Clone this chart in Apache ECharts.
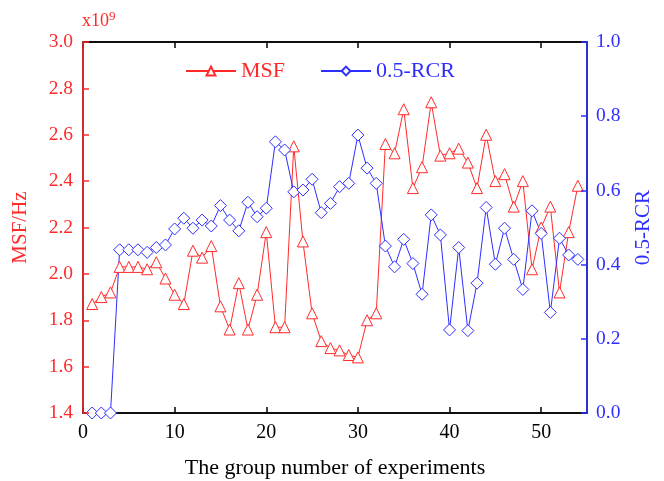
<!DOCTYPE html>
<html>
<head>
<meta charset="utf-8">
<script src="https://cdn.jsdelivr.net/npm/echarts@6/dist/echarts.min.js"></script>
<style>html,body{margin:0;padding:0;background:#fff;}#c{width:664px;height:481px;}</style>
</head>
<body>
<div id="c"></div>
<script>
const groups = [];
for (let i = 1; i <= 54; i++) groups.push(i);
const msf = [1.87,1.90,1.92,2.03,2.03,2.03,2.02,2.05,1.98,1.91,1.87,2.10,2.07,2.12,1.86,1.76,1.96,1.76,1.91,2.18,
             1.77,1.77,2.55,2.14,1.83,1.71,1.68,1.67,1.65,1.64,1.80,1.83,2.56,2.52,2.71,2.37,2.46,2.74,2.51,2.52,
             2.54,2.48,2.37,2.60,2.40,2.43,2.29,2.40,2.02,2.20,2.29,1.92,2.18,2.38];
const rcr = [0.0,0.0,0.0,0.44,0.44,0.44,0.433,0.446,0.453,0.496,0.525,0.498,0.52,0.504,0.559,0.52,0.491,0.568,0.529,0.552,
             0.731,0.709,0.596,0.601,0.63,0.54,0.565,0.61,0.619,0.749,0.66,0.619,0.45,0.394,0.468,0.403,0.32,0.534,0.48,0.224,
             0.446,0.222,0.35,0.554,0.401,0.498,0.414,0.333,0.545,0.484,0.271,0.471,0.426,0.414];
const xTicks = [0,10,20,30,40,50];
const seriesNames = ['MSF','0.5-RCR'];

const RED = '#ff2a2a', BLUE = '#2e2eff';
const FONT = 'Liberation Serif';
const chart = echarts.init(document.getElementById('c'), null, {renderer:'canvas'});
chart.setOption({
  animation:false,
  backgroundColor:'#fff',
  grid:{left:83,right:77,top:42,bottom:68,containLabel:false,outerBoundsMode:'none',
        show:true,borderColor:'#000',borderWidth:1.5,backgroundColor:'transparent'},
  legend:{
    top:55,left:180,itemGap:35,itemWidth:50,itemHeight:11,
    textStyle:{fontFamily:FONT,fontSize:22},
    data:[{name:seriesNames[0],textStyle:{color:RED}},{name:seriesNames[1],textStyle:{color:BLUE}}]
  },
  graphic:[{
    type:'text',left:82,top:10,
    style:{text:'x10{s|9}',fill:RED,font:'18px "Liberation Serif"',
      rich:{s:{fontSize:13,fill:RED,fontFamily:FONT,verticalAlign:'top',padding:[0,0,10,0]}}}
  }],
  xAxis:[{
    type:'value',min:0,max:55,interval:10,position:'bottom',
    name:'The group number of experiments',nameLocation:'middle',nameGap:44,
    nameTextStyle:{fontFamily:FONT,fontSize:22,color:'#000'},
    axisLine:{show:true,lineStyle:{color:'#000',width:1.5}},
    axisTick:{inside:true,length:6,lineStyle:{color:'#000',width:1.5},customValues:xTicks},
    axisLabel:{fontFamily:FONT,fontSize:20,color:'#000',margin:10,customValues:xTicks},
    splitLine:{show:false}
  },{
    type:'value',min:0,max:55,interval:10,position:'top',
    axisLine:{show:true,onZero:false,lineStyle:{color:'#000',width:1.5}},
    axisTick:{inside:true,length:6,lineStyle:{color:'#000',width:1.5},customValues:xTicks},
    axisLabel:{show:false},splitLine:{show:false}
  }],
  yAxis:[{
    type:'value',min:1.4,max:3.0,interval:0.2,position:'left',
    name:'MSF/Hz',nameLocation:'middle',nameGap:52,
    nameTextStyle:{fontFamily:FONT,fontSize:21,color:RED},
    axisLine:{show:true,onZero:false,lineStyle:{color:RED,width:1.5}},
    axisTick:{show:true,inside:true,length:6,lineStyle:{color:RED,width:1.5}},
    axisLabel:{fontFamily:FONT,fontSize:19.5,color:RED,margin:10,formatter:v=>v.toFixed(1)},
    splitLine:{show:false},z:10
  },{
    type:'value',min:0,max:1.0,interval:0.2,position:'right',
    name:'0.5-RCR',nameLocation:'middle',nameGap:46,
    nameTextStyle:{fontFamily:FONT,fontSize:21,color:BLUE},
    axisLine:{show:true,onZero:false,lineStyle:{color:BLUE,width:1.5}},
    axisTick:{show:true,inside:true,length:6,lineStyle:{color:BLUE,width:1.5}},
    axisLabel:{fontFamily:FONT,fontSize:19.5,color:BLUE,margin:9,formatter:v=>v.toFixed(1)},
    splitLine:{show:false},z:10
  }],
  series:[{
    name:seriesNames[0],type:'line',xAxisIndex:0,yAxisIndex:0,
    data:groups.map((g,i)=>[g,msf[i]]),
    symbol:'triangle',symbolSize:11,
    lineStyle:{color:RED,width:1},
    itemStyle:{color:'#fff',borderColor:RED,borderWidth:1},
    color:RED
  },{
    name:seriesNames[1],type:'line',xAxisIndex:0,yAxisIndex:1,
    data:groups.map((g,i)=>[g,rcr[i]]),
    symbol:'diamond',symbolSize:12,
    lineStyle:{color:BLUE,width:1},
    itemStyle:{color:'#fff',borderColor:BLUE,borderWidth:1},
    color:BLUE
  }]
});
</script>
</body>
</html>
